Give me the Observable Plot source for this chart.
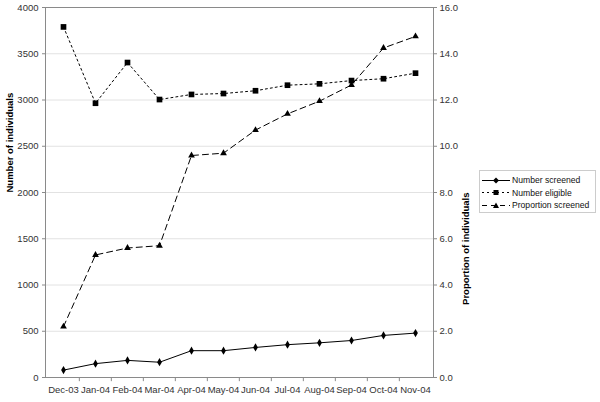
<!DOCTYPE html>
<html>
<head>
<meta charset="utf-8">
<script src="https://cdn.jsdelivr.net/npm/d3@7"></script>
<script src="https://cdn.jsdelivr.net/npm/@observablehq/plot@0.6"></script>
<style>
  body { margin: 0; background: #fff; font-family: "Liberation Sans", Arial, sans-serif; }
  #wrap { position: relative; width: 600px; height: 402px; }
  #legend { position: absolute; left: 479px; top: 170px; width: 117px; height: 43px; border: 1px solid #ccc; background: #fff; font-size: 8.6px; color: #111; white-space: nowrap; padding-top: 3px; box-sizing: border-box; }
  #legend .row { display: flex; align-items: center; height: 12.5px; }
  #legend svg { flex: none; }
</style>
</head>
<body>
<div id="wrap"></div>
<script>
const months = ["Dec-03","Jan-04","Feb-04","Mar-04","Apr-04","May-04","Jun-04","Jul-04","Aug-04","Sep-04","Oct-04","Nov-04"];
const numberScreened = [80, 150, 185, 165, 290, 290, 325, 355, 375, 400, 455, 480];
const numberEligible = [3790, 2965, 3405, 3005, 3060, 3070, 3100, 3160, 3175, 3210, 3230, 3290];
const proportionScreened = [2.2, 5.3, 5.6, 5.7, 9.6, 9.7, 10.7, 11.4, 11.95, 12.65, 14.25, 14.75];
const leftTicks = [0, 500, 1000, 1500, 2000, 2500, 3000, 3500, 4000];
const rightTicks = [0, 2, 4, 6, 8, 10, 12, 14, 16];
const seriesNames = ["Number screened", "Number eligible", "Proportion screened"];

const ratio = 4000 / 16;
const scr = months.map((m, i) => ({m, v: numberScreened[i]}));
const elg = months.map((m, i) => ({m, v: numberEligible[i]}));
const prp = months.map((m, i) => ({m, v: proportionScreened[i] * ratio}));

const W = 600, H = 402, mL = 45, mR = 167, mT = 7, mB = 25;
const bw = (W - mL - mR) / months.length;

const chart = Plot.plot({
  width: W, height: H,
  marginLeft: mL, marginRight: mR, marginTop: mT, marginBottom: mB,
  style: {fontFamily: "Liberation Sans, Arial, sans-serif", fontSize: "9px", color: "#333", background: "#fff"},
  x: {type: "band", domain: months, padding: 0, label: null},
  y: {domain: [0, 4000], label: null},
  marks: [
    Plot.ruleY(leftTicks.slice(1, -1), {stroke: "#e2e2e2"}),
    Plot.frame({stroke: "#8a8a8a"}),
    Plot.axisX({tickSize: 0, tickPadding: 9, fill: "#333", fontSize: 9.5}),
    Plot.ruleX(months.slice(1), {x: d => d, dx: -bw / 2, y1: 0, y2: -45, stroke: "#8a8a8a"}),
    Plot.axisY({ticks: leftTicks, tickSize: 3, tickPadding: 4, stroke: "#8a8a8a", fill: "#333", label: null, tickFormat: d3.format("d"), fontSize: 9.5}),
    Plot.axisY({anchor: "right", ticks: rightTicks.map(t => t * ratio), tickSize: 3, tickPadding: 3, stroke: "#8a8a8a", fill: "#333", label: null, tickFormat: d => (d / ratio).toFixed(1), fontSize: 9.5}),
    Plot.text(["Number of individuals"], {text: d => d, frameAnchor: "left", dx: -36, rotate: -90, fontWeight: "bold", fill: "#000", fontSize: 9.5}),
    Plot.text(["Proportion of individuals"], {text: d => d, frameAnchor: "right", dx: 32, rotate: -90, fontWeight: "bold", fill: "#000", fontSize: 9.5}),
    Plot.line(prp, {x: "m", y: "v", stroke: "#000", strokeWidth: 1, strokeDasharray: "6,4"}),
    Plot.line(elg, {x: "m", y: "v", stroke: "#000", strokeWidth: 1, strokeDasharray: "2,3"}),
    Plot.line(scr, {x: "m", y: "v", stroke: "#000", strokeWidth: 1}),
    Plot.dot(prp, {x: "m", y: "v", symbol: "triangle", r: 2.5, fill: "#000"}),
    Plot.dot(elg, {x: "m", y: "v", symbol: "square", r: 3.2, fill: "#000"}),
    Plot.dot(scr, {x: "m", y: "v", symbol: "diamond", r: 2.5, fill: "#000"})
  ]
});

const wrap = document.getElementById("wrap");
wrap.appendChild(chart);

const legend = document.createElement("div");
legend.id = "legend";
const styles = [
  {dash: null, sym: "diamond"},
  {dash: "2,3", sym: "square"},
  {dash: "5,4", sym: "triangle"}
];
const symPath = {
  diamond: "M14,1.5 L17,4.5 L14,7.5 L11,4.5 Z",
  square: "M11.5,2 H16.5 V7 H11.5 Z",
  triangle: "M14,1.5 L17,7 L11,7 Z"
};
seriesNames.forEach((name, i) => {
  const row = document.createElement("div");
  row.className = "row";
  const s = styles[i];
  row.innerHTML = `<svg width="29" height="9" style="margin-left:2px;margin-right:1px"><line x1="0" y1="4.5" x2="28" y2="4.5" stroke="#000" stroke-width="1" ${s.dash ? `stroke-dasharray="${s.dash}"` : ""}/><path d="${symPath[s.sym]}" fill="#000"/></svg><span>${name}</span>`;
  legend.appendChild(row);
});
wrap.appendChild(legend);
</script>
</body>
</html>
